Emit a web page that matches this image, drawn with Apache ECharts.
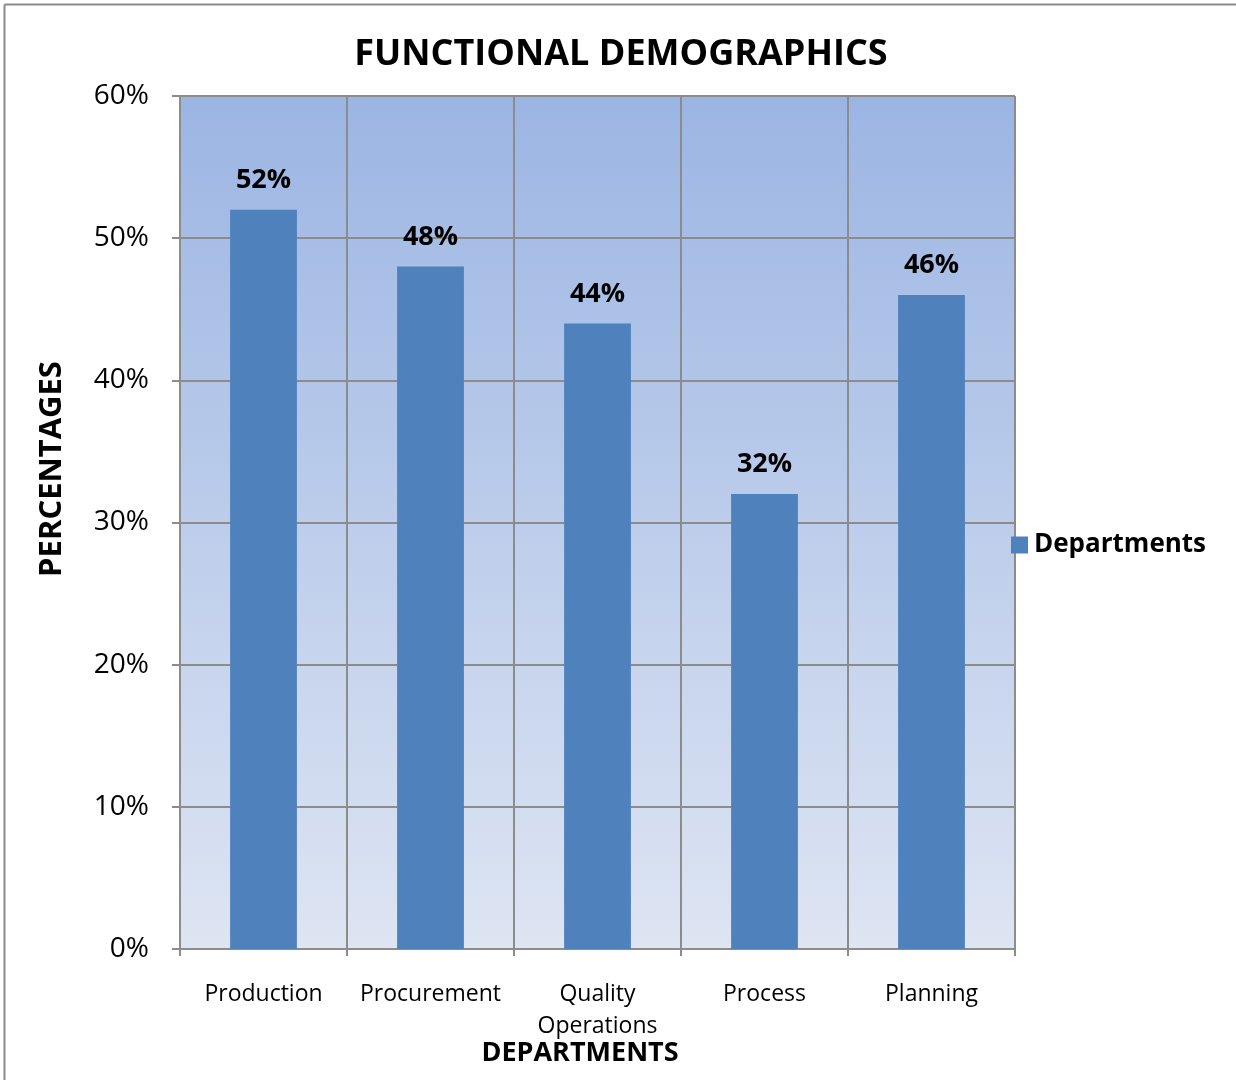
<!DOCTYPE html>
<html>
<head>
<meta charset="utf-8">
<script src="https://cdn.jsdelivr.net/npm/echarts@6/dist/echarts.min.js"></script>
<style>
  html, body { margin: 0; padding: 0; background: #ffffff; }
  #chart { width: 1236px; height: 1080px; }
</style>
</head>
<body>
<div id="chart"></div>
<script>
// Share of staff by functional department (%)
const categories = ['Production', 'Procurement', 'Quality\nOperations', 'Process', 'Planning'];
const departments = [52, 48, 44, 32, 46];
const yTicks = { min: 0, max: 60, interval: 10 };

const FONT = '"Open Sans", "Noto Sans", sans-serif';
const GRID_GRAY = '#8c8c8c';

const chart = echarts.init(document.getElementById('chart'));

chart.setOption({
  backgroundColor: '#ffffff',
  animation: false,
  title: {
    text: 'FUNCTIONAL DEMOGRAPHICS',
    left: 616,
    top: 32,
    textAlign: 'center',
    textStyle: { fontFamily: FONT, fontSize: 36, fontWeight: 'bold', color: '#000' }
  },
  legend: {
    data: ['Departments'],
    left: 1006,
    top: 527,
    itemWidth: 17,
    itemHeight: 17,
    itemGap: 8,
    icon: 'rect',
    textStyle: { fontFamily: FONT, fontSize: 26, fontWeight: 'bold', color: '#000', padding: [0, 0, 0, 1] }
  },
  grid: {
    left: 180,
    right: 221,
    top: 96,
    bottom: 131,
    show: true,
    borderColor: GRID_GRAY,
    borderWidth: 1,
    backgroundColor: new echarts.graphic.LinearGradient(0, 0, 0, 1, [
      { offset: 0, color: '#9bb5e3' },
      { offset: 1, color: '#dee5f3' }
    ])
  },
  xAxis: {
    type: 'category',
    data: categories,
    boundaryGap: true,
    axisLine: { show: true, lineStyle: { color: GRID_GRAY, width: 2 } },
    axisTick: { show: true, length: 7, lineStyle: { color: GRID_GRAY, width: 2 } },
    splitLine: { show: true, lineStyle: { color: GRID_GRAY, width: 2 } },
    axisLabel: {
      margin: 29,
      fontFamily: FONT,
      fontSize: 23,
      lineHeight: 32,
      color: '#000',
      interval: 0
    }
  },
  yAxis: {
    type: 'value',
    min: yTicks.min,
    max: yTicks.max,
    interval: yTicks.interval,
    axisLine: { show: true, lineStyle: { color: GRID_GRAY, width: 2 } },
    axisTick: { show: true, length: 8, lineStyle: { color: GRID_GRAY, width: 2 } },
    splitLine: { show: true, lineStyle: { color: GRID_GRAY, width: 2 } },
    axisLabel: {
      margin: 31,
      fontFamily: FONT,
      fontSize: 28,
      color: '#000',
      formatter: v => v + '%'
    }
  },
  series: [{
    name: 'Departments',
    type: 'bar',
    data: departments,
    barWidth: '40%',
    itemStyle: { color: '#4f81bd' },
    label: {
      show: true,
      position: 'top',
      distance: 16,
      fontFamily: FONT,
      fontSize: 27,
      fontWeight: 'bold',
      color: '#000',
      formatter: p => p.value + '%'
    }
  }],
  graphic: [
    // outer frame (left and top edges visible)
    { type: 'line', shape: { x1: 4.5, y1: 4.5, x2: 4.5, y2: 1080 }, style: { stroke: '#8a8a8a', lineWidth: 2 } },
    { type: 'line', shape: { x1: 4.5, y1: 4.5, x2: 1236, y2: 4.5 }, style: { stroke: '#8a8a8a', lineWidth: 2 } },
    {
      type: 'text',
      x: 52, y: 469,
      rotation: Math.PI / 2,
      style: {
        text: 'PERCENTAGES',
        fontFamily: FONT, fontSize: 31, fontWeight: 'bold', fill: '#000',
        textAlign: 'center', textVerticalAlign: 'middle'
      }
    },
    {
      type: 'text',
      x: 580, y: 1053,
      style: {
        text: 'DEPARTMENTS',
        fontFamily: FONT, fontSize: 27, fontWeight: 'bold', fill: '#000',
        textAlign: 'center', textVerticalAlign: 'middle'
      }
    }
  ]
});
</script>
</body>
</html>
